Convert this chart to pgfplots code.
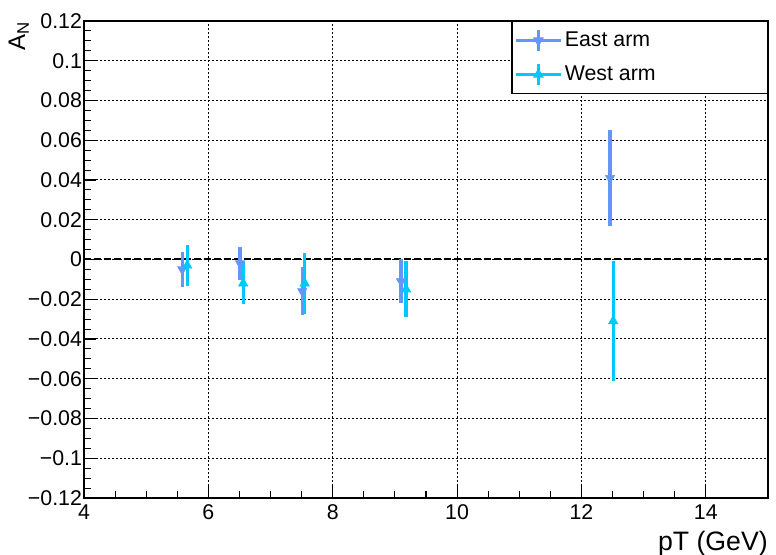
\documentclass[border=0pt]{standalone}
\usepackage{pgfplots}
\pgfplotsset{compat=1.18}
\usepackage{fontspec}
\setmainfont{Liberation Sans}
\definecolor{eastc}{RGB}{100,150,250}
\definecolor{westc}{RGB}{0,200,255}
\begin{document}
\begin{tikzpicture}
\begin{axis}[
 at={(0pt,0pt)}, anchor=south west,
 scale only axis, width=513pt, height=357.75pt,
 xmin=4, xmax=15, ymin=-0.12, ymax=0.12,
 xtick={4,6,8,10,12,14}, minor x tick num=3,
 ytick={-0.12,-0.1,-0.08,-0.06,-0.04,-0.02,0,0.02,0.04,0.06,0.08,0.1,0.12},
 yticklabels={−0.12,−0.1,−0.08,−0.06,−0.04,−0.02,0,0.02,0.04,0.06,0.08,0.1,0.12},
 scaled y ticks=false,
 minor y tick num=3,
 tick align=inside, xtick pos=bottom, ytick pos=left,
 major tick length=9pt, minor tick length=5pt,
 tick style={black, line width=0.8pt},
 axis line style={line width=1.1pt},
 grid=major,
 major grid style={black, line width=0.75pt, dash pattern=on 1.5pt off 1.5pt},
 /pgf/number format/assume math mode=true,
 ticklabel style={font=\fontsize{16}{19}\selectfont},
 yticklabel style={xshift=2pt},
 xticklabel style={yshift=-1.5pt},
 xlabel={pT (GeV)},
 xlabel style={at={(axis description cs:1,-0.068)}, anchor=north east, inner sep=0pt, font=\fontsize{20}{24}\selectfont},
 ylabel={A\textsubscript{N}},
 ylabel style={at={(axis description cs:-0.086,1.0)}, anchor=base east, inner sep=0pt, font=\fontsize{18}{22}\selectfont},
 legend style={at={(1,1)}, anchor=north east, draw=black, line width=0.8pt,
   font=\fontsize{16}{19}\selectfont, inner xsep=2pt, inner ysep=5pt, row sep=7pt,
   /tikz/every even column/.append style={column sep=5pt}},
 legend cell align=left,
]
\addplot[black, line width=1.5pt, dash pattern=on 5pt off 2.5pt, forget plot] coordinates {(4,0) (15,0)};
\addplot[eastc, only marks, mark=triangle*, mark size=4pt,
  mark options={rotate=180, fill=eastc, draw=eastc, line width=0.5pt},
  error bars/.cd, y dir=both, y explicit, error mark=none,
  error bar style={line width=2.5pt, eastc},
  /pgfplots/legend image code/.code={
    \draw[eastc, line width=1.6pt] (0pt,0pt) -- (34pt,0pt);
    \draw[eastc, line width=2.5pt] (17pt,-8pt) -- (17pt,8pt);
    \draw[eastc, mark=triangle*, mark size=4pt, mark options={rotate=180, fill=eastc, draw=eastc}] plot coordinates {(17pt,0pt)};
  }]
  coordinates {
  (5.58,-0.005) +- (0,0.009)
  (6.51,-0.002) +- (0,0.0085)
  (7.51,-0.016) +- (0,0.012)
  (9.10,-0.011) +- (0,0.011)
  (12.46,0.041) +- (0,0.024)
  };
\addlegendentry{\makebox[148pt][l]{East arm}}
\addplot[westc, only marks, mark=triangle*, mark size=4pt,
  mark options={fill=westc, draw=westc, line width=0.5pt},
  error bars/.cd, y dir=both, y explicit, error mark=none,
  error bar style={line width=2.5pt, westc},
  /pgfplots/legend image code/.code={
    \draw[westc, line width=1.6pt] (0pt,0pt) -- (34pt,0pt);
    \draw[westc, line width=2.5pt] (17pt,-8pt) -- (17pt,8pt);
    \draw[westc, mark=triangle*, mark size=4pt, mark options={fill=westc, draw=westc}] plot coordinates {(17pt,0pt)};
  }]
  coordinates {
  (5.66,-0.003) +- (0,0.0105)
  (6.56,-0.012) +- (0,0.0105)
  (7.55,-0.012) +- (0,0.0155)
  (9.18,-0.015) +- (0,0.014)
  (12.51,-0.031) +- (0,0.030)
  };
\addlegendentry{\makebox[148pt][l]{West arm}}
\end{axis}
\pgfresetboundingbox
\path[use as bounding box] (-63pt,-42.75pt) rectangle (519pt,373.5pt);
\end{tikzpicture}
\end{document}
